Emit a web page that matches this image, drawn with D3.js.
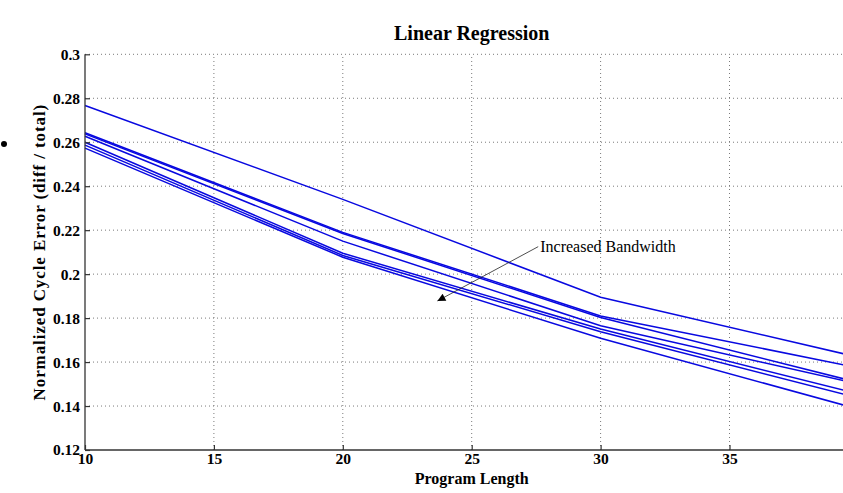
<!DOCTYPE html>
<html>
<head>
<meta charset="utf-8">
<script src="https://cdn.jsdelivr.net/npm/d3@7"></script>
<style>
  body { margin: 0; background: #fff; }
  svg { display: block; }
</style>
</head>
<body>
<div id="chart"></div>
<script>
// program lengths (x) and the normalized cycle error of each run
var lengths = [10, 20, 30, 40];
var run1 = [0.2767, 0.2340, 0.1895, 0.1622];
var run2 = [0.2643, 0.2190, 0.1810, 0.1574];
var run3 = [0.2638, 0.2185, 0.1803, 0.1507];
var run4 = [0.2627, 0.2150, 0.1765, 0.1500];
var run5 = [0.2600, 0.2095, 0.1750, 0.1455];
var run6 = [0.2587, 0.2085, 0.1738, 0.1437];
var run7 = [0.2573, 0.2077, 0.1708, 0.1386];
var runs = [run1, run2, run3, run4, run5, run6, run7];

var xTicks = [10, 15, 20, 25, 30, 35];
var yTicks = [0.12, 0.14, 0.16, 0.18, 0.2, 0.22, 0.24, 0.26, 0.28, 0.3];

// annotation arrow: from (text end) to (tip), in data units
var arrowFrom = [27.58, 0.2125];
var arrowTo = [23.67, 0.1878];

var W = 843, H = 493;
var margin = {top: 54.3, left: 85, bottom: 43};
var serif = "'Liberation Serif', 'Times New Roman', serif";

var svg = d3.select("#chart").append("svg")
    .attr("width", W)
    .attr("height", H)
    .style("font-family", serif);

var x = d3.scaleLinear().domain([10, 40]).range([margin.left, margin.left + 30 * 25.78]);
var y = d3.scaleLinear().domain([0.12, 0.3]).range([H - margin.bottom, margin.top]);

// grid
svg.append("g").selectAll("line.gx")
    .data(xTicks.slice(1))
  .enter().append("line")
    .attr("x1", function(d) { return x(d); })
    .attr("x2", function(d) { return x(d); })
    .attr("y1", y(0.12))
    .attr("y2", y(0.3))
    .attr("stroke", "#7a7a7a")
    .attr("stroke-width", 1)
    .attr("stroke-dasharray", "1,3");

svg.append("g").selectAll("line.gy")
    .data(yTicks.slice(1))
  .enter().append("line")
    .attr("x1", x(10))
    .attr("x2", W)
    .attr("y1", function(d) { return y(d); })
    .attr("y2", function(d) { return y(d); })
    .attr("stroke", "#7a7a7a")
    .attr("stroke-width", 1)
    .attr("stroke-dasharray", "1,3");

// lines
var line = d3.line()
    .x(function(d, i) { return x(lengths[i]); })
    .y(function(d) { return y(d); });

svg.append("g").selectAll("path")
    .data(runs)
  .enter().append("path")
    .attr("d", line)
    .attr("fill", "none")
    .attr("stroke", "#0808e0")
    .attr("stroke-width", 1.5);

// axes
var xAxis = svg.append("g")
    .attr("transform", "translate(0," + y(0.12) + ")")
    .call(d3.axisBottom(x).tickValues(xTicks).tickSize(-5).tickPadding(3).tickFormat(d3.format("d")));

var yAxis = svg.append("g")
    .attr("transform", "translate(" + x(10) + ",0)")
    .call(d3.axisLeft(y).tickValues(yTicks).tickSize(-5).tickPadding(5).tickFormat(function(d) { return String(d); }));

[xAxis, yAxis].forEach(function(a) {
  a.select(".domain").attr("stroke", "#333").attr("stroke-width", 1.3);
  a.selectAll(".tick line").attr("stroke", "#333").attr("stroke-width", 1.2);
  a.selectAll("text")
      .attr("fill", "#000")
      .style("font-family", serif)
      .style("font-size", "15.5px")
      .style("font-weight", "bold");
});
xAxis.select(".domain").attr("d", "M" + x(10) + ",0H" + W);
yAxis.select(".domain").attr("d", "M0," + y(0.12) + "V" + y(0.3));

// title
svg.append("text")
    .attr("x", x(25))
    .attr("y", 40)
    .attr("text-anchor", "middle")
    .style("font-size", "20px")
    .style("font-weight", "bold")
    .text("Linear Regression");

// x label
svg.append("text")
    .attr("x", x(25))
    .attr("y", 484)
    .attr("text-anchor", "middle")
    .style("font-size", "16px")
    .style("font-weight", "bold")
    .text("Program Length");

// y label
svg.append("text")
    .attr("transform", "translate(45," + ((y(0.12) + y(0.3)) / 2) + ") rotate(-90)")
    .attr("text-anchor", "middle")
    .style("font-size", "17px")
    .style("letter-spacing", "0.9px")
    .style("font-weight", "bold")
    .text("Normalized Cycle Error (diff / total)");

// annotation
svg.append("defs").append("marker")
    .attr("id", "head")
    .attr("viewBox", "0 0 10 10")
    .attr("refX", 10).attr("refY", 5)
    .attr("markerWidth", 10).attr("markerHeight", 8)
    .attr("markerUnits", "userSpaceOnUse")
    .attr("orient", "auto")
  .append("path")
    .attr("d", "M0,0L10,5L0,10z")
    .attr("fill", "#000");

svg.append("line")
    .attr("x1", x(arrowFrom[0]))
    .attr("y1", y(arrowFrom[1]))
    .attr("x2", x(arrowTo[0]))
    .attr("y2", y(arrowTo[1]))
    .attr("stroke", "#222")
    .attr("stroke-width", 0.8)
    .attr("marker-end", "url(#head)");

svg.append("text")
    .attr("x", x(arrowFrom[0]) + 2)
    .attr("y", y(arrowFrom[1]) + 5.5)
    .style("font-size", "16px")
    .text("Increased Bandwidth");

// stray bullet at the left edge of the figure
svg.append("circle")
    .attr("cx", 4)
    .attr("cy", 144)
    .attr("r", 3)
    .attr("fill", "#000");
</script>
</body>
</html>
